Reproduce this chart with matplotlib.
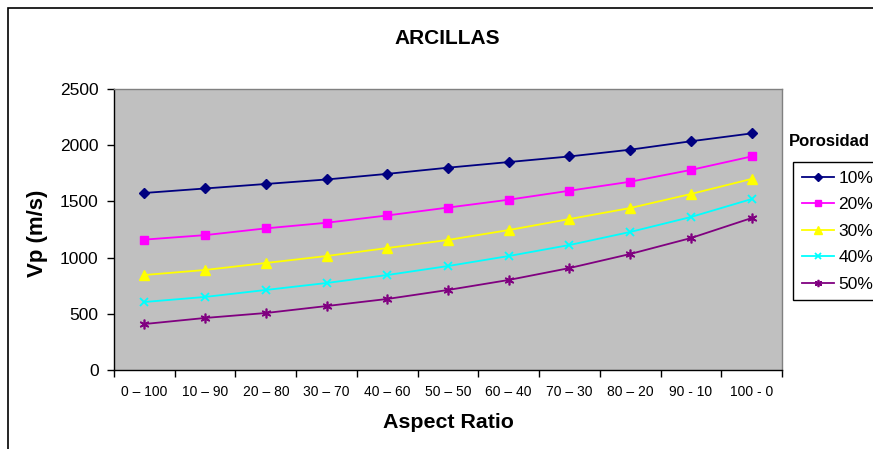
import matplotlib
matplotlib.use("Agg")
import matplotlib.pyplot as plt
from matplotlib.patches import Rectangle
from matplotlib.lines import Line2D
import numpy as np

plt.rcParams['font.family'] = ['Liberation Sans', 'DejaVu Sans']

categories = ["0 – 100", "10 – 90", "20 – 80", "30 – 70", "40 – 60", "50 – 50",
              "60 – 40", "70 – 30", "80 – 20", "90 - 10", "100 - 0"]
p10 = [1575, 1615, 1655, 1695, 1745, 1800, 1850, 1900, 1960, 2035, 2105]
p20 = [1160, 1200, 1260, 1310, 1375, 1445, 1515, 1595, 1675, 1780, 1900]
p30 = [845, 890, 952, 1014, 1085, 1157, 1245, 1343, 1441, 1566, 1700]
p40 = [605, 650, 712, 774, 845, 925, 1014, 1112, 1228, 1361, 1521]
p50 = [409, 463, 507, 569, 632, 712, 801, 907, 1032, 1174, 1352]
series_labels = ["10%", "20%", "30%", "40%", "50%"]
yticks = [0, 500, 1000, 1500, 2000, 2500]

W, H = 873, 449
fig = plt.figure(figsize=(W / 100, H / 100), dpi=100)
fig.patch.set_facecolor('white')

# outer chart frame
fig.patches.append(Rectangle((8 / W, -0.1), 1.2, (H - 8) / H + 0.1, transform=fig.transFigure,
                             fill=False, edgecolor='black', linewidth=1.2))

L, R, T, B = 114, 782, 89, 370
ax = fig.add_axes([L / W, 1 - B / H, (R - L) / W, (B - T) / H])
ax.set_facecolor('#C0C0C0')

x = np.arange(len(categories))
styles = [
    dict(color='#000080', marker='D', markersize=5),
    dict(color='#FF00FF', marker='s', markersize=6),
    dict(color='#FFFF00', marker='^', markersize=7),
    dict(color='#00FFFF', marker='x', markersize=6, markeredgewidth=1.3),
    dict(color='#800080', marker=(6, 2, 0), markersize=7, markeredgewidth=1.2),
]
handles = []
for vals, lab, st in zip([p10, p20, p30, p40, p50], series_labels, styles):
    ax.plot(x, vals, linewidth=1.3, **st)
    hst = dict(st)
    hst['markersize'] = st['markersize'] * 0.75
    handles.append(Line2D([], [], linewidth=1.3, label=lab, **hst))

ax.set_xlim(-0.5, len(categories) - 0.5)
ax.set_ylim(0, 2500)
ax.set_yticks(yticks)
ax.set_yticklabels([str(v) for v in yticks], fontsize=12.5)
ax.set_xticks(x)
ax.set_xticklabels(categories, fontsize=10)
ax.tick_params(axis='x', which='major', length=0, pad=11)
ax.set_xticks(np.arange(-0.5, len(categories)), minor=True)
ax.tick_params(axis='x', which='minor', length=5, direction='out', width=1)
ax.tick_params(axis='y', length=5, direction='out', width=1, pad=6)

for s in ['top', 'right']:
    ax.spines[s].set_color('#808080')
    ax.spines[s].set_linewidth(1)
for s in ['left', 'bottom']:
    ax.spines[s].set_color('black')
    ax.spines[s].set_linewidth(1)

fig.text(38 / W, 1 - 233 / H, 'Vp (m/s)', fontsize=16, fontweight='bold', rotation=90,
         ha='center', va='center')
fig.text(448 / W, 1 - 423 / H, 'Aspect Ratio', fontsize=15.4, fontweight='bold',
         ha='center', va='center')
fig.text(447 / W, 1 - 38 / H, 'ARCILLAS', fontsize=15, fontweight='bold', ha='center', va='center')

fig.text(789 / W, 1 - 142 / H, 'Porosidad', fontsize=12, fontweight='bold', ha='left', va='center')
leg = fig.legend(handles=handles, loc='upper left', bbox_to_anchor=(793 / W, 1 - 162 / H),
                 fontsize=12.5, frameon=True, fancybox=False, edgecolor='black', framealpha=1,
                 handlelength=1.85, handletextpad=0.25, labelspacing=0.65, borderpad=0.5,
                 borderaxespad=0)
leg.get_frame().set_linewidth(1)

fig.savefig('out.png', dpi=100)
